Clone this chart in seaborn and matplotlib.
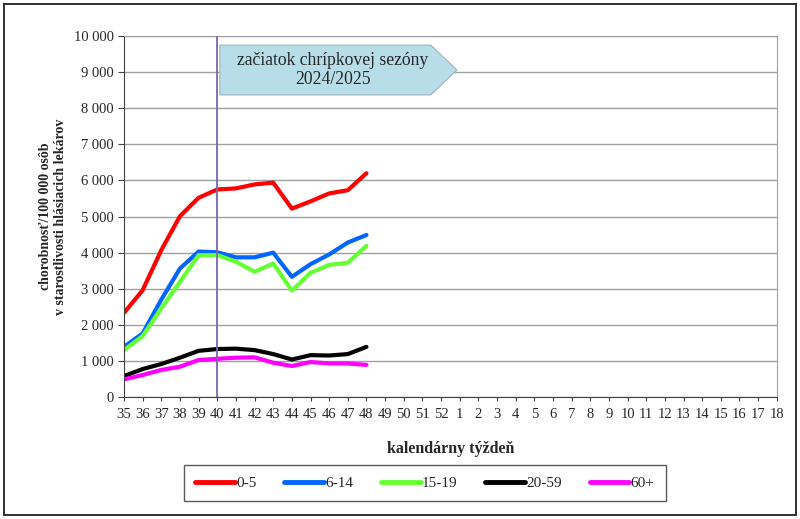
import pandas as pd
import seaborn as sns
import matplotlib.pyplot as plt
from matplotlib.patches import Polygon, Rectangle
from matplotlib.ticker import FuncFormatter

# Calendar weeks of the season (x categories)
weeks = [str(w) for w in range(35, 53)] + [str(w) for w in range(1, 19)]

# Reported weeks so far
data_weeks = [str(w) for w in range(35, 49)]

# Morbidity per 100 000 persons, by age group
age_0_5 = [2330, 2960, 4070, 5010, 5520, 5750, 5780, 5890, 5940, 5220, 5420, 5640, 5730, 6200]
age_6_14 = [1390, 1760, 2700, 3560, 4030, 4010, 3870, 3870, 4000, 3330, 3680, 3950, 4280, 4490]
age_15_19 = [1300, 1690, 2460, 3190, 3930, 3930, 3750, 3470, 3700, 2950, 3440, 3660, 3720, 4190]
age_20_59 = [580, 775, 915, 1090, 1280, 1330, 1340, 1300, 1190, 1040, 1160, 1150, 1190, 1390]
age_60 = [490, 610, 750, 840, 1025, 1060, 1090, 1100, 950, 860, 970, 930, 930, 890]

groups = ['0-5', '6-14', '15-19', '20-59', '60+']
series = [age_0_5, age_6_14, age_15_19, age_20_59, age_60]
colors = ['#ff0000', '#0066ff', '#66ff33', '#000000', '#ff00ff']

season_start = '40'

rows = []
for g, vals in zip(groups, series):
    for w, v in zip(data_weeks, vals):
        rows.append({'week': w, 'pos': weeks.index(w), 'group': g, 'value': v})
df = pd.DataFrame(rows)

sns.set_style('white')
plt.rcParams['font.family'] = ['Liberation Serif', 'DejaVu Serif']

fig = plt.figure(figsize=(8, 5.19), dpi=100)
ax = fig.add_axes([0.155, 0.235, 0.816, 0.6955])

sns.lineplot(data=df, x='pos', y='value', hue='group', hue_order=groups,
             palette=dict(zip(groups, colors)), linewidth=3.0, ax=ax,
             legend=False, solid_capstyle='round')

ax.set_xlim(0, len(weeks) - 1)
ax.set_ylim(0, 10000)
ax.set_xticks(range(len(weeks)))
ax.set_xticklabels(weeks, fontsize=10.5)
ax.set_yticks(range(0, 10001, 1000))
ax.yaxis.set_major_formatter(FuncFormatter(lambda v, p: f"{int(v):,}".replace(',', ' ')))
ax.tick_params(axis='y', labelsize=10.5, length=4, direction='out', left=True, color='#404040')
ax.tick_params(axis='x', length=3, direction='out', bottom=True, color='#404040', pad=5)

ax.yaxis.grid(True, color='#a0a0a0', linewidth=1)
ax.set_axisbelow(True)
for side in ['top', 'right']:
    ax.spines[side].set_color('#a0a0a0')
for side in ['left', 'bottom']:
    ax.spines[side].set_color('#404040')

ax.set_xlabel('kalendárny týždeň', fontsize=11.5, fontweight='bold', labelpad=14)
ax.set_ylabel('chorobnosť/100 000 osôb\nv starostlivosti hlásiacich lekárov',
              fontsize=10, fontweight='bold', labelpad=5)

# start of the flu season
x0 = weeks.index(season_start)
ax.axvline(x0, color='#7a68a8', linewidth=1.3, zorder=5)
arrow = Polygon([(x0 + 0.14, 9750), (x0 + 11.45, 9750), (x0 + 12.85, 9060),
                 (x0 + 11.45, 8370), (x0 + 0.14, 8370)], closed=True,
                facecolor='#b7dde8', edgecolor='#a0b4bc', linewidth=0.8, zorder=6)
ax.add_patch(arrow)
ax.text(x0 + 6.2, 9060, 'začiatok chrípkovej sezóny\n2024/2025', ha='center', va='center',
        fontsize=12.7, linespacing=1.1, zorder=7)

handles = [plt.Line2D([], [], color=c, linewidth=3.5, solid_capstyle='round') for c in colors]
leg = fig.legend(handles, groups, loc='center', bbox_to_anchor=(0.531, 0.069), ncol=5,
                 frameon=True, fancybox=False, edgecolor='#303030', fontsize=11,
                 handlelength=2.6, handletextpad=0.1, columnspacing=1.8,
                 borderpad=0.75, borderaxespad=0)
leg.get_frame().set_linewidth(1.0)

fig.patches.append(Rectangle((4 / 800, 4 / 519), 792 / 800, 511 / 519, transform=fig.transFigure,
                             fill=False, edgecolor='#202020', linewidth=1.3))

fig.savefig('out.png', dpi=100)
